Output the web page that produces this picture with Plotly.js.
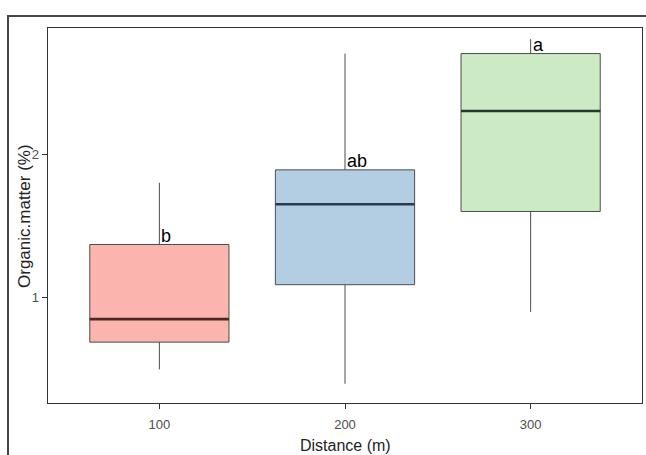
<!DOCTYPE html>
<html>
<head>
<meta charset="utf-8">
<script src="https://cdn.plot.ly/plotly-3.0.1.min.js"></script>
<style>
  html, body { margin: 0; padding: 0; background: #fff; }
  #wrap { position: relative; width: 646px; height: 455px; overflow: hidden; }
  #chart { position: absolute; left: 0; top: 0; width: 646px; height: 455px; }
  #frame { position: absolute; left: 7px; top: 15px; width: 660px; height: 460px;
           border-top: 2px solid #444; border-left: 2px solid #444; pointer-events: none; }
</style>
</head>
<body>
<div id="wrap">
  <div id="chart"></div>
  <div id="frame"></div>
</div>
<script>
// ---- data ----
const distances = ["100", "200", "300"];
const lowerWhisker = [0.50, 0.40, 0.90];
const q1Values = [0.69, 1.09, 1.60];
const medianValues = [0.85, 1.65, 2.30];
const q3Values = [1.37, 1.89, 2.70];
const upperWhisker = [1.80, 2.70, 2.80];
const letters = ["b", "ab", "a"];
const yTickVals = [1, 2];
const xTitle = "Distance (m)";
const yTitle = "Organic.matter (%)";

// ---- styles ----
const fills = ["#FBB4AE", "#B3CDE3", "#CCEBC5"];
const medianColors = ["#4a2826", "#2b3b4d", "#27392a"];
const outline = "#4d4d4d";
const boxWidth = 0.75;
const fontFam = "Liberation Sans, Arial, sans-serif";

const traces = [];
distances.forEach((d, i) => {
  const xc = i + 1;
  traces.push({
    type: "box",
    x: [xc],
    q1: [q1Values[i]],
    median: [medianValues[i]],
    q3: [q3Values[i]],
    lowerfence: [lowerWhisker[i]],
    upperfence: [upperWhisker[i]],
    width: boxWidth,
    fillcolor: fills[i],
    line: { color: outline, width: 1 },
    whiskerwidth: 0,
    hoverinfo: "skip",
    showlegend: false
  });
  traces.push({
    type: "scatter",
    mode: "lines",
    x: [xc - boxWidth / 2, xc + boxWidth / 2],
    y: [medianValues[i], medianValues[i]],
    line: { color: medianColors[i], width: 2.6 },
    hoverinfo: "skip",
    showlegend: false
  });
});

const annotations = distances.map((d, i) => ({
  x: i + 1,
  y: q3Values[i],
  xref: "x",
  yref: "y",
  text: letters[i],
  showarrow: false,
  xanchor: "left",
  yanchor: "bottom",
  xshift: 0,
  yshift: -3,
  font: { family: fontFam, size: 18, color: "#000" }
}));

annotations.push({
  xref: "paper", yref: "paper",
  x: -0.0396, y: 0.5,
  xanchor: "center", yanchor: "middle",
  textangle: -90,
  text: yTitle,
  showarrow: false,
  font: { family: fontFam, size: 17, color: "#222" }
});
annotations.push({
  xref: "paper", yref: "paper",
  x: 0.5, y: -0.112,
  xanchor: "center", yanchor: "middle",
  text: xTitle,
  showarrow: false,
  font: { family: fontFam, size: 16, color: "#222" }
});

const layout = {
  width: 646,
  height: 455,
  margin: { l: 48, r: 4, t: 28, b: 52 },
  paper_bgcolor: "#fff",
  plot_bgcolor: "#fff",
  font: { family: fontFam },
  xaxis: {
    range: [0.4, 3.6],
    tickvals: [1, 2, 3],
    ticktext: distances,
    showgrid: false,
    zeroline: false,
    showline: true,
    mirror: true,
    linecolor: "#333",
    linewidth: 1.3,
    ticks: "outside",
    ticklen: 5,
    tickcolor: "#333",
    ticklabelstandoff: 4,
    tickfont: { family: fontFam, size: 13, color: "#4d4d4d" },
    automargin: false
  },
  yaxis: {
    range: [0.266, 2.878],
    tickvals: yTickVals,
    ticktext: yTickVals.map(String),
    showgrid: false,
    zeroline: false,
    showline: true,
    mirror: true,
    linecolor: "#333",
    linewidth: 1.3,
    ticks: "outside",
    ticklen: 5,
    tickcolor: "#333",
    tickfont: { family: fontFam, size: 13, color: "#4d4d4d" },
    automargin: false
  },
  annotations: annotations
};

Plotly.newPlot("chart", traces, layout, { displayModeBar: false, staticPlot: true });
</script>
</body>
</html>
